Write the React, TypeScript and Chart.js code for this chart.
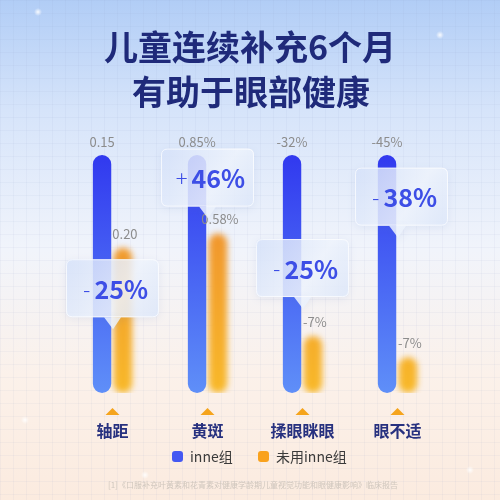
import React, { useEffect, useRef } from "react";
import { Chart, registerables } from "chart.js";
Chart.register(...registerables);

const titleLines = ["儿童连续补充6个月", "有助于眼部健康"];
const categories = ["轴距", "黄斑", "揉眼眯眼", "眼不适"];
const seriesNames = ["inne组", "未用inne组"];
const inneHeights = [100, 100, 100, 100];
const controlHeights = [61, 67, 24, 15];
const inneLabels = ["0.15", "0.85%", "-32%", "-45%"];
const controlLabels = ["0.20", "0.58%", "-7%", "-7%"];
const changeLabels = ["-25%", "+46%", "-25%", "-38%"];
const footnote = "[1]《口服补充叶黄素和花青素对健康学龄期儿童视觉功能和眼健康影响》临床报告";

// layout (not data): vertical level of each callout box centre, in y-scale units
const calloutLevels = [44, 90.5, 52.5, 82.5];
const calloutOffsetX = [0, 0, 0, 4];

const CJK = '"Noto Sans CJK SC", "Noto Sans", sans-serif';

function roundRect(ctx: CanvasRenderingContext2D, x: number, y: number, w: number, h: number, r: number) {
  ctx.beginPath();
  ctx.moveTo(x + r, y);
  ctx.lineTo(x + w - r, y);
  ctx.quadraticCurveTo(x + w, y, x + w, y + r);
  ctx.lineTo(x + w, y + h - r);
  ctx.quadraticCurveTo(x + w, y + h, x + w - r, y + h);
  ctx.lineTo(x + r, y + h);
  ctx.quadraticCurveTo(x, y + h, x, y + h - r);
  ctx.lineTo(x, y + r);
  ctx.quadraticCurveTo(x, y, x + r, y);
  ctx.closePath();
}

const bgPlugin = {
  id: "bg",
  beforeDraw(chart: any) {
    const ctx: CanvasRenderingContext2D = chart.ctx;
    const W = chart.width, H = chart.height;
    ctx.save();
    const g = ctx.createLinearGradient(0, 0, 0, H);
    g.addColorStop(0, "#b1cdf6");
    g.addColorStop(0.22, "#d6e4fa");
    g.addColorStop(0.5, "#f1f4fb");
    g.addColorStop(0.75, "#fbf1ea");
    g.addColorStop(1, "#fbebdf");
    ctx.fillStyle = g;
    ctx.fillRect(0, 0, W, H);
    ctx.strokeStyle = "rgba(140,160,200,0.07)";
    ctx.lineWidth = 1;
    for (let x = 0.5; x < W; x += 13) {
      ctx.beginPath(); ctx.moveTo(x, 0); ctx.lineTo(x, H); ctx.stroke();
    }
    for (let y = 0.5; y < H; y += 13) {
      ctx.beginPath(); ctx.moveTo(0, y); ctx.lineTo(W, y); ctx.stroke();
    }
    const stars = [[38, 12], [440, 35], [25, 420], [470, 470], [145, 475]];
    for (const [sx, sy] of stars) {
      const rg = ctx.createRadialGradient(sx, sy, 0, sx, sy, 4);
      rg.addColorStop(0, "rgba(255,255,255,0.9)");
      rg.addColorStop(1, "rgba(255,255,255,0)");
      ctx.fillStyle = rg;
      ctx.fillRect(sx - 4, sy - 4, 8, 8);
    }
    ctx.restore();
  },
  beforeDatasetDraw(chart: any, args: any) {
    if (args.index === 1) {
      chart.ctx.save();
      chart.ctx.filter = "blur(3px)";
    }
  },
  afterDatasetDraw(chart: any, args: any) {
    if (args.index === 1) chart.ctx.restore();
  },
};

const decorPlugin = {
  id: "decor",
  afterDatasetsDraw(chart: any) {
    const ctx: CanvasRenderingContext2D = chart.ctx;
    const yScale = chart.scales.y;
    const m0 = chart.getDatasetMeta(0).data;
    const m1 = chart.getDatasetMeta(1).data;
    ctx.save();
    ctx.textAlign = "center";
    ctx.textBaseline = "middle";

    ctx.font = `13px ${CJK}`;
    ctx.fillStyle = "#8c8c8c";
    categories.forEach((_, i) => {
      ctx.fillText(inneLabels[i], m0[i].x, m0[i].y - 13);
      ctx.fillText(controlLabels[i], m1[i].x + 2, m1[i].y - 14);
    });

    categories.forEach((_, i) => {
      const cx = (m0[i].x + m1[i].x) / 2 + calloutOffsetX[i];
      const cy = yScale.getPixelForValue(calloutLevels[i]);
      const w = 93, h = 58;
      const x = cx - w / 2, y = cy - h / 2;
      const tipX = m0[i].x + 10;
      ctx.save();
      ctx.shadowColor = "rgba(80,110,180,0.12)";
      ctx.shadowBlur = 8;
      ctx.shadowOffsetY = 2;
      const g = ctx.createLinearGradient(x, y, x + w, y + h);
      g.addColorStop(0, "rgba(214,226,250,0.83)");
      g.addColorStop(0.6, "rgba(240,245,253,0.85)");
      g.addColorStop(1, "rgba(222,232,250,0.85)");
      ctx.fillStyle = g;
      roundRect(ctx, x, y, w, h, 6);
      ctx.fill();
      ctx.beginPath();
      ctx.moveTo(tipX - 8, y + h);
      ctx.lineTo(tipX + 9, y + h);
      ctx.lineTo(tipX + 1, y + h + 12);
      ctx.closePath();
      ctx.fill();
      ctx.restore();
      ctx.strokeStyle = "rgba(255,255,255,0.7)";
      ctx.lineWidth = 1;
      roundRect(ctx, x + 0.5, y + 0.5, w - 1, h - 1, 6);
      ctx.stroke();

      const label = changeLabels[i];
      const sign = label[0];
      const rest = label.slice(1);
      const signFont = `300 22px ${CJK}`;
      const numFont = `bold 25px ${CJK}`;
      ctx.font = signFont;
      const sw = ctx.measureText(sign).width;
      ctx.font = numFont;
      const nw = ctx.measureText(rest).width;
      const gap = 4;
      const total = sw + gap + nw;
      const sx = cx + 3 - total / 2;
      ctx.textAlign = "left";
      ctx.fillStyle = "#3d4ee6";
      ctx.font = signFont;
      ctx.fillText(sign, sx, cy + 1);
      ctx.font = numFont;
      ctx.fillText(rest, sx + sw + gap, cy + 1);
      ctx.textAlign = "center";
    });

    const xScale = chart.scales.x;
    categories.forEach((c, i) => {
      const cx = xScale.getPixelForValue(i);
      ctx.fillStyle = "#f5a41c";
      ctx.beginPath();
      ctx.moveTo(cx - 7, 415);
      ctx.lineTo(cx + 7, 415);
      ctx.lineTo(cx, 408);
      ctx.closePath();
      ctx.fill();
      ctx.font = `bold 16px ${CJK}`;
      ctx.fillStyle = "#27317f";
      ctx.fillText(c, cx, 431);
    });

    const legendColors = ["#4458f2", "#f9a21e"];
    const legendX = [172, 258];
    ctx.textAlign = "left";
    ctx.font = `14px ${CJK}`;
    seriesNames.forEach((n, i) => {
      ctx.fillStyle = legendColors[i];
      roundRect(ctx, legendX[i], 451, 11, 11, 3);
      ctx.fill();
      ctx.fillStyle = "#3a3a3a";
      ctx.fillText(n, legendX[i] + 18, 457);
    });

    ctx.textAlign = "center";
    ctx.fillStyle = "#1f2a7a";
    ctx.font = `bold 34px ${CJK}`;
    ctx.fillText(titleLines[0], 250, 47);
    ctx.fillText(titleLines[1], 251, 92);

    ctx.font = `8px ${CJK}`;
    ctx.fillStyle = "#cfc6bd";
    ctx.fillText(footnote, 253, 485);
    ctx.restore();
  },
};

export default function App() {
  const ref = useRef<HTMLCanvasElement>(null);
  useEffect(() => {
    document.body.style.margin = "0";
    const canvas = ref.current!;
    const blue = (c: any) => {
      const a = c.chart.chartArea;
      if (!a) return "#3d4ef2";
      const g = c.chart.ctx.createLinearGradient(0, a.top, 0, a.bottom);
      g.addColorStop(0, "#3139ef");
      g.addColorStop(1, "#5f8ff8");
      return g;
    };
    const orange = (c: any) => {
      const a = c.chart.chartArea;
      if (!a) return "#f5a42a";
      const g = c.chart.ctx.createLinearGradient(0, a.top + 70, 0, a.bottom);
      g.addColorStop(0, "#f0952e");
      g.addColorStop(1, "#f8b92a");
      return g;
    };
    const chart = new Chart(canvas, {
      type: "bar",
      data: {
        labels: categories,
        datasets: [
          { label: seriesNames[0], data: inneHeights, backgroundColor: blue },
          { label: seriesNames[1], data: controlHeights, backgroundColor: orange },
        ],
      },
      options: {
        responsive: false,
        animation: false,
        devicePixelRatio: 1,
        layout: { padding: { left: 65, right: 55, top: 155, bottom: 107 } },
        scales: {
          x: { display: false },
          y: { display: false, min: 0, max: 100 },
        },
        datasets: {
          bar: {
            categoryPercentage: 0.44,
            barPercentage: 0.88,
            borderRadius: 10,
            borderSkipped: false,
          },
        } as any,
        plugins: {
          legend: { display: false },
          title: { display: false },
          tooltip: { enabled: false },
        },
      },
      plugins: [bgPlugin, decorPlugin],
    } as any);
    return () => chart.destroy();
  }, []);
  return (
    <div style={{ position: "fixed", left: 0, top: 0, width: 500, height: 500 }}>
      <canvas ref={ref} width={500} height={500} style={{ display: "block", width: 500, height: 500 }} />
    </div>
  );
}
